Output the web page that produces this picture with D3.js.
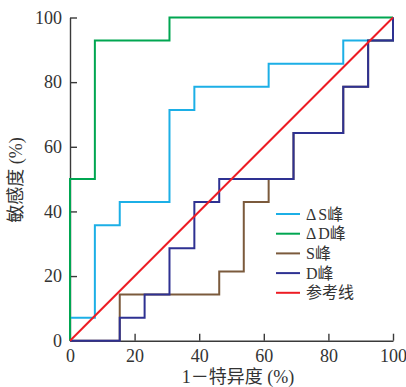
<!DOCTYPE html>
<html>
<head>
<meta charset="utf-8">
<script src="https://cdn.jsdelivr.net/npm/d3@7"></script>
<style>
  html, body { margin: 0; padding: 0; background: #fff; }
  svg { display: block; }
</style>
</head>
<body>
<svg id="chart" width="406" height="387"></svg>
<script>
// ROC points: 1 - specificity (%) and sensitivity (%)
const dsFpr = [0, 0, 7.7, 7.7, 15.4, 15.4, 30.8, 30.8, 38.5, 38.5, 61.5, 61.5, 84.6, 84.6, 100, 100];
const dsTpr = [0, 7.1, 7.1, 35.7, 35.7, 42.9, 42.9, 71.4, 71.4, 78.6, 78.6, 85.7, 85.7, 92.9, 92.9, 100];

const ddFpr = [0, 0, 7.7, 7.7, 30.8, 30.8, 100];
const ddTpr = [0, 50, 50, 92.9, 92.9, 100, 100];

const sFpr = [0, 15.4, 15.4, 46.2, 46.2, 53.8, 53.8, 61.5, 61.5, 69.2, 69.2, 84.6, 84.6, 92.3, 92.3, 100, 100];
const sTpr = [0, 0, 14.3, 14.3, 21.4, 21.4, 42.9, 42.9, 50, 50, 64.3, 64.3, 78.6, 78.6, 92.9, 92.9, 100];

const dFpr = [0, 15.4, 15.4, 23.1, 23.1, 30.8, 30.8, 38.5, 38.5, 46.2, 46.2, 69.2, 69.2, 84.6, 84.6, 92.3, 92.3, 100, 100];
const dTpr = [0, 0, 7.1, 7.1, 14.3, 14.3, 28.6, 28.6, 42.9, 42.9, 50, 50, 64.3, 64.3, 78.6, 78.6, 92.9, 92.9, 100];

const refFpr = [0, 100];
const refTpr = [0, 100];

const seriesNames = ['\u0394S峰', '\u0394D峰', 'S峰', 'D峰', '参考线'];
const seriesColors = ['#1cafe6', '#00a651', '#7b5a3c', '#2e3192', '#ed1c24'];

const xTicks = [0, 20, 40, 60, 80, 100];
const yTicks = [0, 20, 40, 60, 80, 100];

const xTitle = '1－特异度 (%)';
const yTitle = '敏感度 (%)';

const serif = '"Liberation Serif", "Times New Roman", "Noto Sans CJK SC", serif';

const svg = d3.select('#chart');
const margin = { top: 17.5, right: 13, bottom: 46.3, left: 70 };
const width = 406, height = 387;

const x = d3.scaleLinear().domain([0, 100]).range([margin.left, width - margin.right]);
const y = d3.scaleLinear().domain([0, 100]).range([height - margin.bottom, margin.top]);

// axes, ticks pointing inward
const xAxis = svg.append('g')
  .attr('transform', `translate(0,${y(0)})`)
  .call(d3.axisBottom(x).tickValues(xTicks).tickSizeInner(-7).tickSizeOuter(0));
const yAxis = svg.append('g')
  .attr('transform', `translate(${x(0)},0)`)
  .call(d3.axisLeft(y).tickValues(yTicks).tickSizeInner(-7).tickSizeOuter(0));

[xAxis, yAxis].forEach(g => {
  g.select('.domain').attr('stroke', '#3a3a3a').attr('stroke-width', 1.4);
  g.selectAll('.tick line').attr('stroke', '#3a3a3a').attr('stroke-width', 1.4);
  g.selectAll('.tick text')
    .attr('fill', '#333')
    .style('font-family', serif)
    .style('font-size', '18px');
});
xAxis.selectAll('.tick').filter(d => d === 0).select('line').remove();
yAxis.selectAll('.tick').filter(d => d === 0).select('line').remove();
yAxis.selectAll('.tick text').attr('x', -8);
xAxis.selectAll('.tick text').attr('y', 9);

// curves
const series = [
  [dsFpr, dsTpr],
  [ddFpr, ddTpr],
  [sFpr, sTpr],
  [dFpr, dTpr],
  [refFpr, refTpr]
];
const line = d3.line().x(d => x(d[0])).y(d => y(d[1]));

series.forEach(([fx, ty], i) => {
  svg.append('path')
    .datum(d3.zip(fx, ty))
    .attr('fill', 'none')
    .attr('stroke', seriesColors[i])
    .attr('stroke-width', 2)
    .attr('d', line);
});

// legend
const legend = svg.append('g').attr('transform', 'translate(276,214)');
seriesNames.forEach((name, i) => {
  const row = legend.append('g').attr('transform', `translate(0,${i * 19.7})`);
  row.append('line')
    .attr('x1', 0).attr('x2', 24)
    .attr('stroke', seriesColors[i])
    .attr('stroke-width', 2);
  const t = row.append('text')
    .attr('x', 30)
    .attr('y', 5.5)
    .attr('fill', '#333')
    .style('font-family', serif)
    .style('font-size', '16px');
  if (name.startsWith('\u0394')) {
    t.append('tspan').text('\u0394');
    t.append('tspan').attr('dx', 2).text(name.slice(1));
  } else {
    t.text(name);
  }
});

// axis titles
svg.append('text')
  .attr('x', 238)
  .attr('y', 383)
  .attr('text-anchor', 'middle')
  .attr('fill', '#333')
  .style('font-family', serif)
  .style('font-size', '18px')
  .text(xTitle);

svg.append('text')
  .attr('transform', 'translate(22,180) rotate(-90)')
  .attr('text-anchor', 'middle')
  .attr('fill', '#333')
  .style('font-family', serif)
  .style('font-size', '18px')
  .text(yTitle);
</script>
</body>
</html>
